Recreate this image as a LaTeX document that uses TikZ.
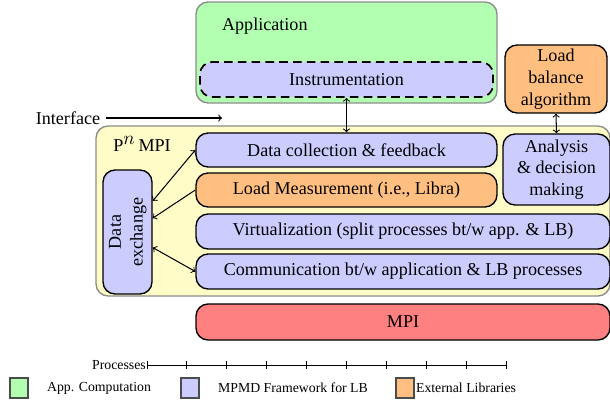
\documentclass[tikz,border=0pt]{standalone}
\usepackage{fontspec}
\setmainfont{Liberation Serif}
\usepackage{xcolor}
\usepackage{tikz}
\usetikzlibrary{positioning}
\def\pxu{0.58pt}
\tikzset{
	% every rounded block of the stack
	block/.style={
		draw=black,rectangle,rounded corners=7pt,line width=0.8pt,align=center,inner sep=1pt
	},
	% parts owned by the application
	app_part/.style={
		block,fill=green!30
	},
	% parts of the MPMD framework for LB
	lb_part/.style={
		block,fill=blue!20
	},
	% the external libraries
	ext_part/.style={
		block,fill=orange!50
	},
	% the MPI layer
	mpi_part/.style={
		block,fill=red!50
	},
	% grey framed containers
	holder/.style={
		draw=black!45,rectangle,rounded corners=7pt,line width=0.8pt
	},
	% small squares of the legend
	key/.style={
		draw=black!70,rectangle,line width=0.6pt,minimum width=18*\pxu,minimum height=20*\pxu,inner sep=0pt
	},
	% legend and axis texts
	keytext/.style={
		anchor=west,inner sep=1pt,font=\footnotesize
	},
	% block size given in pixels of the layout grid
	boxsize/.style 2 args={
		minimum width=#1*\pxu,minimum height=#2*\pxu
	},
	% arrows between blocks
	link/.style={
		semithick
	},
}

\begin{document}
\begin{tikzpicture}[x=0.58pt,y=-0.58pt,font=\fontsize{10.5}{12.6}\selectfont]
		\useasboundingbox (0,0) rectangle (610,404);

		% Application side
		\node [holder,fill=green!30,boxsize={301}{101}] (App) at (346.5,52.5) {};
		\node [anchor=west] (AppName) at (216,26) {Application};
		\node [lb_part,dash pattern=on 5pt off 3pt,line width=1pt,boxsize={293}{35}] (Instr) at (346.5,79.5) {Instrumentation};

		% External load balancer
		\node [ext_part,boxsize={102}{68}] (LBAlgo) at (556,79) {Load\\balance\\algorithm};

		% The PnMPI layer
		\node (Iface) at (68,118) {Interface};
		\coordinate (IfaceEnd) at (222,118);
		\node [holder,fill=yellow!22,boxsize={514}{170}] (PnMPI) at (353,211) {};
		\node (PnMPIName) at (142,144) {P$^{\textstyle n}$\,MPI};
		\node [lb_part,boxsize={301}{34}] (Collect) at (346.5,150) {Data collection \& feedback};
		\node [ext_part,boxsize={301}{34}] (Measure) at (346.5,190) {Load Measurement (i.e., Libra)};
		\node [lb_part,boxsize={107}{71}] (Analysis) at (556.5,169.5) {Analysis\\\& decision\\making};
		\node [lb_part,boxsize={414}{35}] (Virt) at (403,231.5) {Virtualization (split processes bt/w app. \& LB)};
		\node [lb_part,boxsize={414}{35}] (Comm) at (403,271.5) {Communication bt/w application \& LB processes};
		\node [lb_part,boxsize={49}{124}] (DataEx) at (127.5,232) {\rotatebox{90}{\begin{tabular}{@{}c@{}}Data\\exchange\end{tabular}}};

		% MPI
		\node [mpi_part,boxsize={414}{36}] (MPI) at (403,322) {MPI};

		% Processes axis
		\coordinate (AxisL) at (147,365);
		\coordinate (AxisR) at (507,365);
		\node [keytext,anchor=east,inner sep=0.5pt] (Proc) at (AxisL) {Processes};
		\draw (AxisL) -- (AxisR);
		\foreach \x in {147,186,226,...,506}
			\draw (\x,361) -- (\x,369);

		% Legend
		\node [key,fill=green!30] (KeyApp) at (19,388) {};
		\node [keytext] (KeyAppText) at (45,388) {App. Computation};
		\node [key,fill=blue!20] (KeyLB) at (190,388) {};
		\node [keytext] (KeyLBText) at (216,388) {MPMD Framework for LB};
		\node [key,fill=orange!50] (KeyExt) at (405,388) {};
		\node [keytext] (KeyExtText) at (414,388) {External Libraries};

		% Connections
		\draw [link,->] (Iface) -- (IfaceEnd);
		\draw [link,<->] (Instr.south) -- (Collect.north);
		\draw [link,<->] (LBAlgo.south) -- (Analysis.north);
		\draw [link,<->] ([yshift=18pt]DataEx.east) -- (Collect.west);
		\draw [link,->] (Measure.west) -- ([yshift=8pt]DataEx.east);
		\draw [link,<->] ([yshift=-9pt]DataEx.east) -- (Comm.west);
	\end{tikzpicture}
\end{document}
